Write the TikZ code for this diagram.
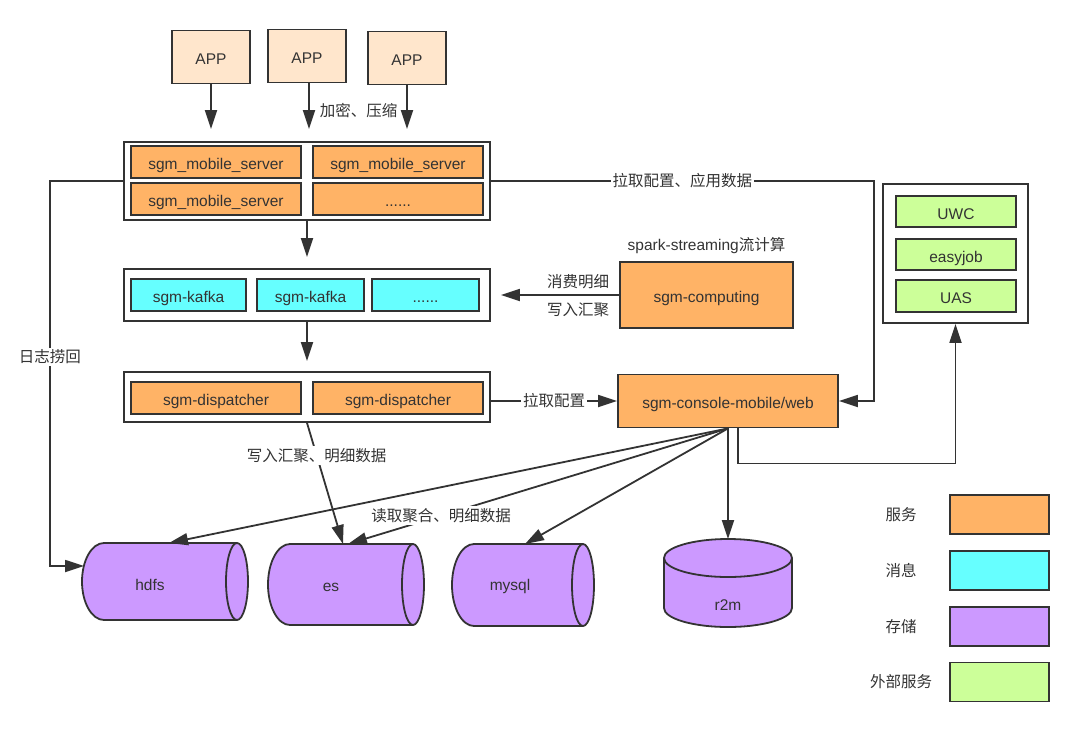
\documentclass[tikz,border=0pt]{standalone}
\usepackage{fontspec}
\setmainfont{Liberation Sans}
\newfontfamily\cjk{Noto Sans CJK SC}
\usetikzlibrary{arrows.meta,positioning}

\definecolor{linec}{HTML}{333333}
\definecolor{appc}{HTML}{FFE6CC}
\definecolor{srvc}{HTML}{FFB366}
\definecolor{mqc}{HTML}{66FFFF}
\definecolor{dbc}{HTML}{CC99FF}
\definecolor{extc}{HTML}{CCFF99}

\tikzset{
  box/.style={draw=linec, line width=1.8pt, text=linec, inner sep=0pt,
    text height=15pt, text depth=0pt},
  appbox/.style={box, fill=appc, minimum width=78pt, minimum height=53pt},
  outerbox/.style={box, fill=white},
  srvnode/.style={box, fill=srvc, minimum width=170pt, minimum height=32pt},
  mqnode/.style={box, fill=mqc, minimum width=107pt, minimum height=32pt},
  extnode/.style={box, fill=extc, minimum width=120pt, minimum height=31pt},
  swatch/.style={box, minimum width=99pt, minimum height=39pt},
  cyl/.style={draw=linec, line width=1.8pt, fill=dbc},
  arr/.style={draw=linec, line width=1.8pt, ->},
  lbl/.style={fill=white, inner sep=2pt, text=linec, font=\fontsize{15.5}{18}\selectfont\cjk},
  plain/.style={text=linec}
}

\begin{document}
\begin{tikzpicture}[x=1pt, y=-1pt, font=\fontsize{15.5}{18}\selectfont,
    >={Triangle[length=19pt,width=12pt]}]
  \useasboundingbox (0,0) rectangle (1080,732);
  % clients
  \foreach \x/\y/\name in {211/57/app1, 307/56/app2, 407/58/app3}
    \node[appbox] (\name) at (\x,\y) {APP};
  % mobile server cluster
  \node[outerbox, minimum width=366pt, minimum height=78pt] (servers) at (307,181) {};
  \node[srvnode] (s1) at (216,162) {sgm\_mobile\_server};
  \node[srvnode] (s2) at (398,162) {sgm\_mobile\_server};
  \node[srvnode] (s3) at (216,199) {sgm\_mobile\_server};
  \node[srvnode] (s4) at (398,199) {......};
  % kafka
  \node[outerbox, minimum width=366pt, minimum height=52pt] (kafka) at (307,295) {};
  \node[mqnode, minimum width=115pt] (k1) at (188.5,295) {sgm-kafka};
  \node[mqnode] (k2) at (310.5,295) {sgm-kafka};
  \node[mqnode] (k3) at (425.5,295) {......};
  % dispatchers
  \node[outerbox, minimum width=366pt, minimum height=50pt] (dispatch) at (307,397) {};
  \node[srvnode] (d1) at (216,398) {sgm-dispatcher};
  \node[srvnode] (d2) at (398,398) {sgm-dispatcher};
  % computing and console
  \node[box, fill=srvc, minimum width=173pt, minimum height=66pt] (comp) at (706.5,295) {sgm-computing};
  \node[plain, above=4pt of comp] (spark) {spark-streaming{\cjk 流计算}};
  \node[box, fill=srvc, minimum width=220pt, minimum height=53pt] (console) at (728,401) {sgm-console-mobile/web};
  % external services
  \node[outerbox, minimum width=145pt, minimum height=139pt] (extbox) at (955.5,253.5) {};
  \node[extnode] (uwc) at (956,211.5) {UWC};
  \node[extnode] (easyjob) at (956,254.5) {easyjob};
  \node[extnode, minimum height=32pt] (uas) at (956,296) {UAS};

  % storage
  \foreach \xa/\xb/\ya/\yb in {82/248/543/620, 268/424/544/625, 452/594/544/626} {
    \pgfmathsetmacro\ry{(\yb-\ya)/2}
    \draw[cyl] (\xa+22,\ya) -- (\xb-11,\ya)
      arc[start angle=90, end angle=-90, x radius=11pt, y radius=\ry pt]
      -- (\xa+22,\yb)
      arc[start angle=270, end angle=90, x radius=22pt, y radius=\ry pt] -- cycle;
    \draw[draw=linec, line width=1.8pt] (\xb-11,\ya)
      arc[start angle=90, end angle=270, x radius=11pt, y radius=\ry pt];
  }
  \draw[cyl] (664,558) -- (664,608) arc[start angle=180, end angle=360, x radius=64pt, y radius=19pt]
    -- (792,558) arc[start angle=0, end angle=180, x radius=64pt, y radius=19pt] -- cycle;
  \draw[draw=linec, line width=1.8pt] (664,558) arc[start angle=180, end angle=360, x radius=64pt, y radius=19pt];
  \node[plain] (hdfs) at (150,585) {hdfs};
  \node[plain] (es) at (331,587) {es};
  \node[plain] (mysql) at (510,586) {mysql};
  \node[plain] (r2m) at (728,605) {r2m};
  \coordinate (hdfsT) at (169,543);
  \coordinate (hdfsL) at (84,566);
  \coordinate (esT) at (348,544);
  \coordinate (esT2) at (343,544);
  \coordinate (mysqlT) at (525,544);
  \coordinate (r2mT) at (728,539);

  % connectors
  \draw[arr, shorten >=12pt] (app1.south) -- (app1.south |- servers.north);
  \draw[arr, shorten >=12pt] ([xshift=2pt]app2.south) -- ([xshift=2pt]app2.south |- servers.north)
    node[lbl, pos=0.47, right=8pt] {加密、压缩};
  \draw[arr, shorten >=12pt] (app3.south) -- (app3.south |- servers.north);
  \draw[arr, shorten >=11pt] (servers.south) -- (kafka.north);
  \draw[arr, shorten >=10pt] (kafka.south) -- (dispatch.north);
  \draw[arr, shorten >=10pt] (comp.west) -- (kafka.east |- comp.west)
    node[lbl, pos=0.32, above=3pt] {消费明细}
    node[lbl, pos=0.32, below=5pt] {写入汇聚};
  \draw[arr] (dispatch.east |- console.west) -- (console.west) node[lbl, midway] {拉取配置};
  \draw[arr] (servers.east) -| node[lbl, pos=0.25] {拉取配置、应用数据}
    ([xshift=35pt]console.east) -- (console.east);
  \draw[arr] (servers.west) -| ([xshift=-34pt]hdfsL) -- (hdfsL);
  \node[lbl] (logback) at (50,357) {日志捞回};
  \draw[arr] ([xshift=10pt]console.south) -- ++(0,35) -| (extbox.south);
  \draw[arr] (dispatch.south) -- (esT2) node[lbl, pos=0.27] {写入汇聚、明细数据};
  \draw[arr] (console.south) -- (hdfsT);
  \draw[arr] (console.south) -- (esT) node[lbl, pos=0.755] {读取聚合、明细数据};
  \draw[arr] (console.south) -- (mysqlT);
  \draw[arr] (console.south) -- (r2mT);

  % legend
  \foreach \y/\col/\txt/\name in {514.5/srvc/服务/lg1, 570.5/mqc/消息/lg2, 626.5/dbc/存储/lg3, 682/extc/外部服务/lg4} {
    \node[swatch, fill=\col] (\name) at (999.5,\y) {};
    \node[lbl, fill=none] (\name t) at (901,\y) {\txt};
  }
\end{tikzpicture}
\end{document}
